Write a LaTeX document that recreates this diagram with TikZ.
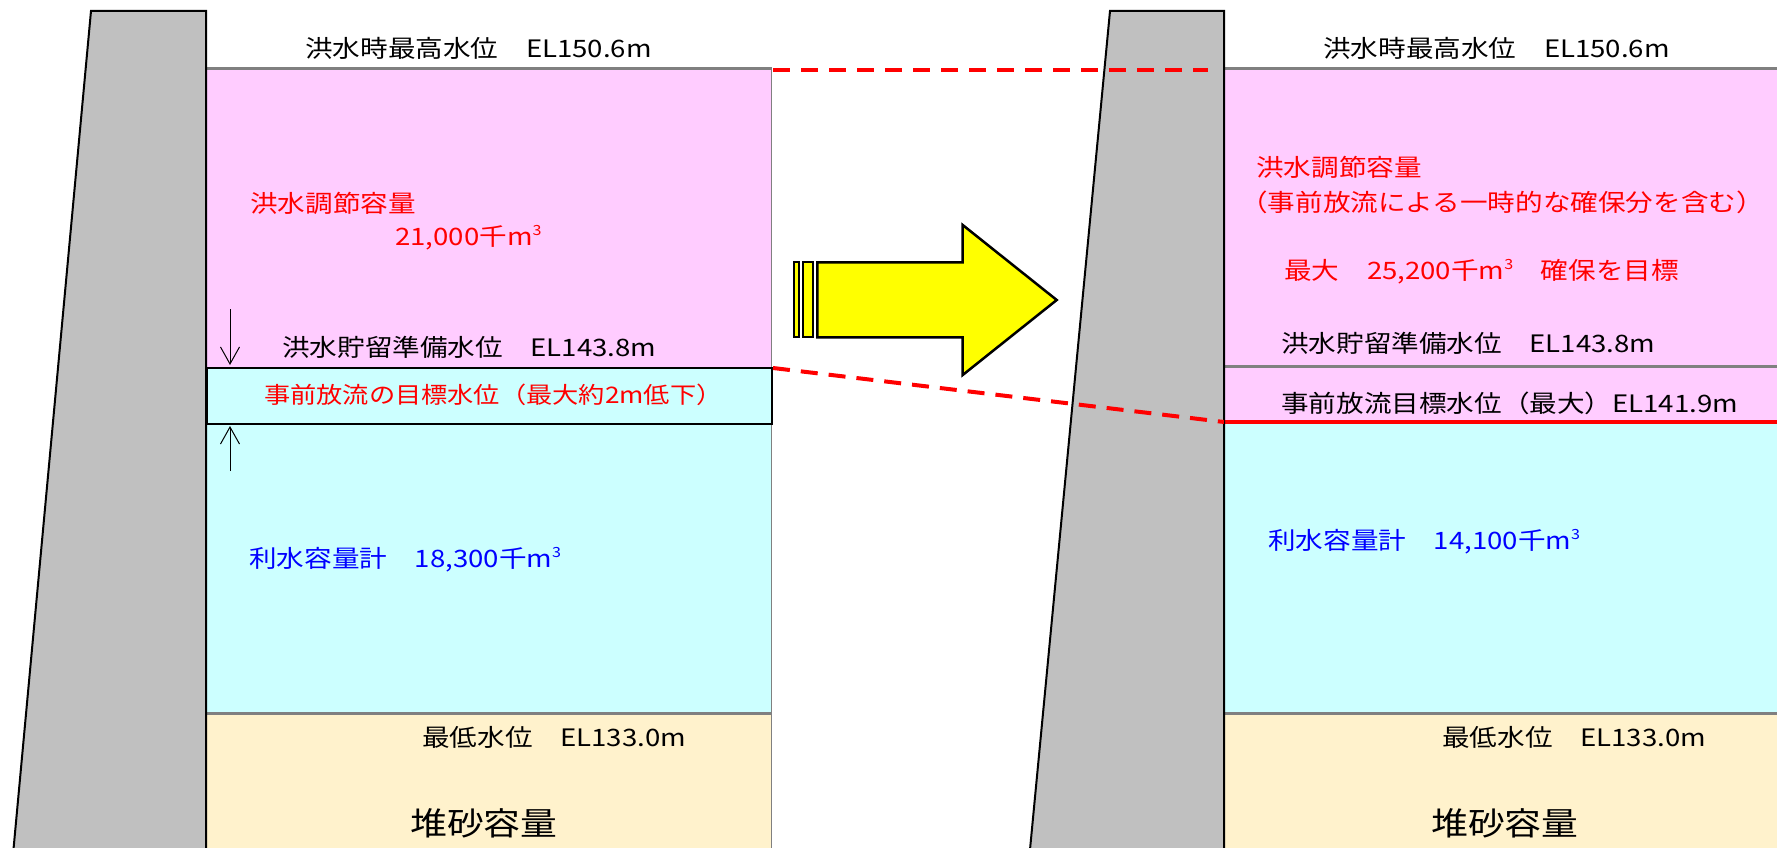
\documentclass[tikz,border=0pt]{standalone}
\usepackage{fontspec}
\usetikzlibrary{arrows.meta}
\newfontfamily\jp{Noto Sans CJK JP}[FakeStretch=1.15]
\definecolor{pinkf}{RGB}{255,204,255}
\definecolor{cyanf}{RGB}{204,255,255}
\definecolor{beigef}{RGB}{255,242,204}
\definecolor{damf}{RGB}{192,192,192}
\definecolor{grayl}{RGB}{128,128,128}
\definecolor{redc}{RGB}{255,0,0}
\definecolor{bluec}{RGB}{0,0,255}
\definecolor{yel}{RGB}{255,255,0}
\newcommand{\cubesup}{\raisebox{0.42em}{\fontsize{14}{14}\selectfont 3}}
\tikzset{
  lbl/.style={anchor=west, inner sep=0pt, font=\jp\fontsize{24}{28}\selectfont},
  biglbl/.style={lbl, font=\jp\fontsize{32}{36}\selectfont},
  redt/.style={text=redc},
  bluet/.style={text=bluec},
  levelline/.style={draw=grayl, line width=3pt},
  reddash/.style={draw=redc, line width=4pt, dash pattern=on 17pt off 11pt},
  gauge/.style={draw=black, line width=1pt, -{Straight Barb[length=17pt,width=19pt]}},
}
\begin{document}
\begin{tikzpicture}[x=1pt,y=-1pt]
\useasboundingbox (0,0) rectangle (1777,848);
\begin{scope}
\clip (0,0) rectangle (1777,848);
% ---------- left reservoir ----------
\fill[pinkf] (206,69) rectangle (771,368);
\fill[cyanf] (206,368) rectangle (771,713);
\fill[beigef] (206,713) rectangle (771,860);
\draw[grayl, line width=1pt] (771,69) -- (771,860);
\draw[levelline] (206,69) -- (772,69);
\draw[levelline] (206,713) -- (771,713);
\draw[fill=cyanf, draw=black, line width=2.5pt] (207,368) rectangle (772,424);
% left dam
\fill[damf] (13.6,848) -- (91,11) -- (206,11) -- (206,860) -- (12.6,860) -- cycle;
\draw[black, line width=2pt] (12.5,860) -- (91,11) -- (206,11) -- (206,860);
% ---------- right reservoir ----------
\fill[pinkf] (1224,69) rectangle (1777,422);
\fill[cyanf] (1224,422) rectangle (1777,713);
\fill[beigef] (1224,713) rectangle (1777,860);
\draw[levelline] (1224,69) -- (1777,69);
\draw[levelline] (1224,366) -- (1777,366);
\draw[levelline] (1224,713) -- (1777,713);
\draw[redc, line width=3.5pt] (1224,422) -- (1777,422);
% right dam
\fill[damf] (1030,848) -- (1110,11) -- (1224,11) -- (1224,860) -- (1029,860) -- cycle;
\draw[black, line width=2pt] (1029,860) -- (1110,11) -- (1224,11) -- (1224,860);
\end{scope}
% ---------- dashed comparison lines ----------
\coordinate (lt) at (773,70);
\coordinate (rt) at (1208,70);
\coordinate (lb) at (773,368);
\coordinate (rb) at (1224,422);
\draw[reddash] (lt) -- (rt);
\draw[reddash] (lb) -- (rb);
% ---------- big yellow arrow ----------
\draw[fill=yel, draw=black, line width=2.5pt]
  (817.3,262.3) -- (962.7,262.3) -- (962.7,225) -- (1056.7,300) -- (962.7,375) -- (962.7,337.3) -- (817.3,337.3) -- cycle;
\draw[fill=yel, draw=black, line width=2pt] (794,262.3) rectangle (799.3,337.3);
\draw[fill=yel, draw=black, line width=2pt] (803.3,262.3) rectangle (813.3,337.3);
% ---------- gauge arrows ----------
\coordinate (da1) at (230,309);
\coordinate (da2) at (230,365);
\coordinate (ua1) at (230,471);
\coordinate (ua2) at (230,426);
\draw[gauge] (da1) -- (da2);
\draw[gauge] (ua1) -- (ua2);
% ---------- left labels ----------
\node[lbl] (L1) at (305,48) {洪水時最高水位　EL150.6m};
\node[lbl,redt] (L2) at (250,203) {洪水調節容量};
\node[lbl,redt] (L3) at (395,238) {21,000千m\cubesup};
\node[lbl] (L4) at (282,347) {洪水貯留準備水位　EL143.8m};
\node[lbl,redt,font=\jp\fontsize{22.8}{27}\selectfont] (L5) at (264,395) {事前放流の目標水位（最大約2m低下）};
\node[lbl,bluet] (L6) at (249,560) {利水容量計　18,300千m\cubesup};
\node[lbl] (L7) at (422,737) {最低水位　EL133.0m};
\node[biglbl] (L8) at (410,823) {堆砂容量};
% ---------- right labels ----------
\node[lbl] (R1) at (1323,48) {洪水時最高水位　EL150.6m};
\node[lbl,redt] (R2) at (1256,167) {洪水調節容量};
\node[lbl,redt] (R3) at (1240,202) {（事前放流による一時的な確保分を含む）};
\node[lbl,redt] (R4) at (1284,272) {最大　25,200千m\cubesup　確保を目標};
\node[lbl] (R5) at (1281,343) {洪水貯留準備水位　EL143.8m};
\node[lbl] (R6) at (1281,403) {事前放流目標水位（最大）EL141.9m};
\node[lbl,bluet] (R7) at (1268,542) {利水容量計　14,100千m\cubesup};
\node[lbl] (R8) at (1442,737) {最低水位　EL133.0m};
\node[biglbl] (R9) at (1431,823) {堆砂容量};
\end{tikzpicture}
\end{document}
